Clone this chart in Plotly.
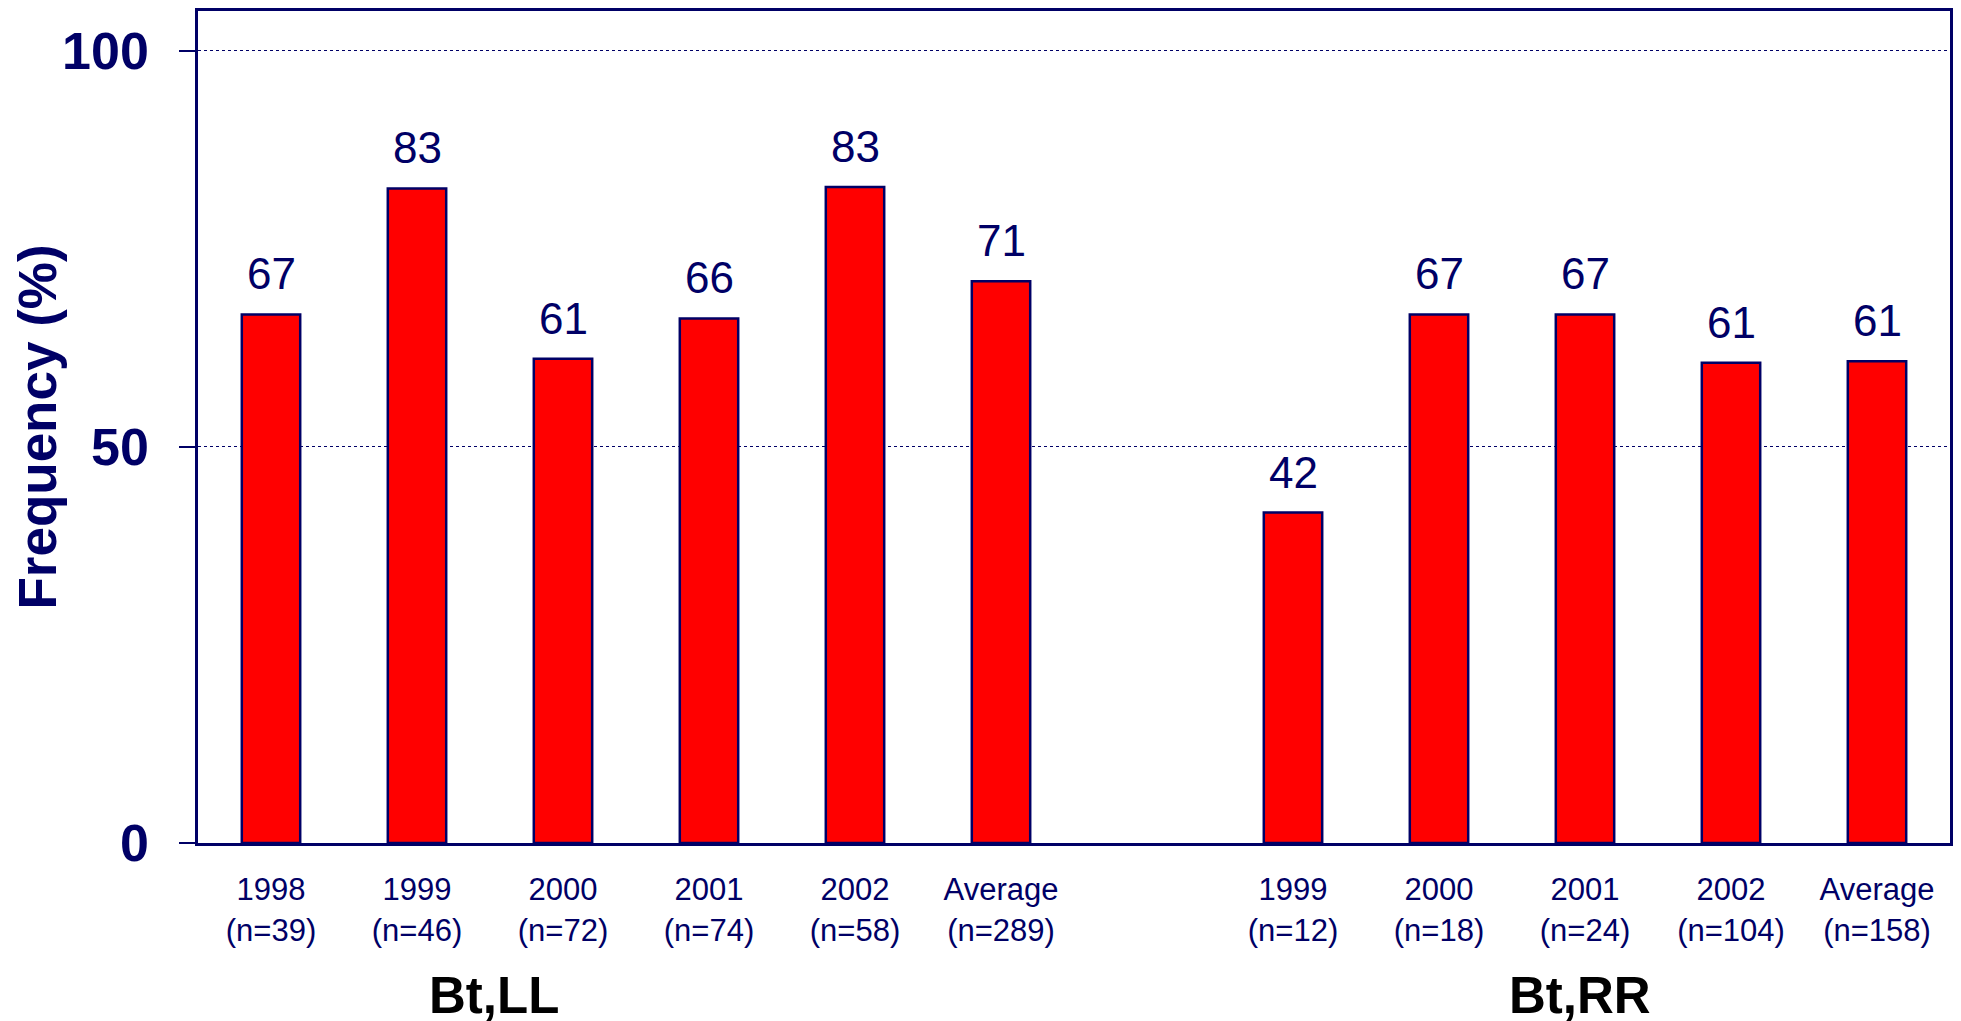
import plotly.graph_objects as go

NAVY = "#000066"
FONT = "Liberation Sans, Arial, sans-serif"

# Data
group_names = ["Bt,LL", "Bt,RR"]
ll_years = ["1998", "1999", "2000", "2001", "2002", "Average"]
ll_n = [39, 46, 72, 74, 58, 289]
ll_freq = [66.7, 82.6, 61.1, 66.2, 82.8, 70.9]
rr_years = ["1999", "2000", "2001", "2002", "Average"]
rr_n = [12, 18, 24, 104, 158]
rr_freq = [41.7, 66.7, 66.7, 60.6, 60.8]
y_ticks = [0, 50, 100]

# Positions: one empty slot between the two groups
ll_x = list(range(len(ll_years)))
rr_x = [len(ll_years) + 1 + i for i in range(len(rr_years))]
xs = ll_x + rr_x
freqs = ll_freq + rr_freq
labels = [f"{y}<br>(n={n})" for y, n in zip(ll_years + rr_years, ll_n + rr_n)]

fig = go.Figure()
fig.add_trace(go.Bar(
    x=xs, y=freqs, width=0.4,
    marker=dict(color="#FF0000", line=dict(color=NAVY, width=2.5)),
    hoverinfo="skip",
))

for x, v in zip(xs, freqs):
    fig.add_annotation(x=x, y=v, xref="x", yref="y", text=f"{round(v)}",
                       showarrow=False, yanchor="bottom", yshift=14,
                       font=dict(family=FONT, size=44, color=NAVY))

group_pos = [0.169, 0.789]
for name, px in zip(group_names, group_pos):
    fig.add_annotation(x=px, y=-0.183, xref="paper", yref="paper", text=f"<b>{name}</b>",
                       showarrow=False, xanchor="center", yanchor="middle",
                       font=dict(family=FONT, size=51, color="black"))

fig.update_layout(
    width=1945, height=1013,
    margin=dict(l=190, r=2, t=0, b=178),
    paper_bgcolor="white", plot_bgcolor="white",
    showlegend=False,
    font=dict(family=FONT, color=NAVY),
    xaxis=dict(
        range=[-0.5, len(xs) + 0.5],
        tickvals=xs, ticktext=labels,
        tickfont=dict(family=FONT, size=31, color=NAVY),
        showgrid=False, zeroline=False,
        showline=True, linecolor=NAVY, linewidth=3, mirror=True,
        ticks="", ticklabelstandoff=17,
    ),
    yaxis=dict(
        range=[0, 105],
        tickvals=y_ticks, ticktext=[f"<b>{t}</b>" for t in y_ticks],
        tickfont=dict(family=FONT, size=52, color=NAVY),
        ticks="outside", ticklen=16, tickcolor=NAVY, tickwidth=1.5,
        ticklabelstandoff=20,
        showgrid=True, gridcolor=NAVY, griddash="dot", gridwidth=1,
        zeroline=False,
        showline=True, linecolor=NAVY, linewidth=2.5, mirror=True,
        title=dict(text="<b>Frequency (%)</b>", font=dict(family=FONT, size=53, color=NAVY), standoff=2),
    ),
)

fig.write_html("out.html")
